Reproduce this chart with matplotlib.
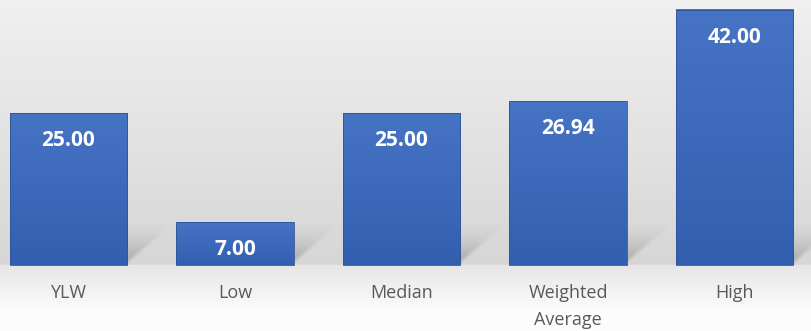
import numpy as np
import matplotlib
matplotlib.use("Agg")
import matplotlib.pyplot as plt
from matplotlib.colors import to_rgb

# values shown on each bar
categories = ["YLW", "Low", "Median", "Weighted\nAverage", "High"]
values = [25.00, 7.00, 25.00, 26.94, 42.00]

plt.rcParams["font.family"] = ["Open Sans", "DejaVu Sans"]

fig = plt.figure(figsize=(8.12, 3.31), dpi=100)
ax = fig.add_axes([0, 0, 1, 1])
ax.set_xlim(-0.411, 4.465)
ax.set_ylim(-10.86, 43.59)
ax.axis("off")

# background: grey wall fading up to light, floor fading down to white
ny = 400
yy = np.linspace(43.59, -10.86, ny)
bg = np.zeros((ny, 2, 3))
top_c, wall_c = np.array(to_rgb("#f0f0f0")), np.array(to_rgb("#d6d6d6"))
floor_c, bot_c = np.array(to_rgb("#e6e6e6")), np.array(to_rgb("#fdfdfd"))
for i, yv in enumerate(yy):
    if yv >= 0:
        t = 1 - yv / 43.59
        c = top_c + (wall_c - top_c) * t
    else:
        t = min(1.0, -yv / 8.0)
        c = floor_c + (bot_c - floor_c) * t
    bg[i, :, :] = c
ax.imshow(bg, extent=[-0.411, 4.465, -10.86, 43.59], aspect="auto", zorder=0,
          interpolation="bilinear")

x = np.arange(len(values))
width = 0.705
bars = ax.bar(x, values, width=width, color="none", edgecolor="none", zorder=3)

# soft skewed shadow behind each bar
dx, hs = 0.30, 7.0
for b in bars:
    x0 = b.get_x()
    w = b.get_width()
    h = min(hs, b.get_height() * 1.1)
    nx, nyy = 200, 80
    gx = np.linspace(x0, x0 + w + dx, nx)
    gy = np.linspace(h, 0, nyy)
    GX, GY = np.meshgrid(gx, gy)
    t = GY / h
    u = (GX - x0 - dx * t) / w
    edge = np.clip(np.minimum(u, 1 - u) / 0.06, 0, 1)
    alpha = 0.38 * (1 - t) ** 1.5 * edge
    img = np.zeros((nyy, nx, 4))
    img[..., :3] = 0.35
    img[..., 3] = alpha
    ax.imshow(img, extent=[x0, x0 + w + dx, 0, h], aspect="auto", zorder=2,
              interpolation="bilinear")

# bars with a slight vertical blue gradient
c_top, c_bot = np.array(to_rgb("#4673c4")), np.array(to_rgb("#325fae"))
for b in bars:
    grad = np.linspace(0, 1, 100)[:, None, None] * (c_bot - c_top) + c_top
    grad = np.repeat(grad, 2, axis=1)
    ax.imshow(grad, extent=[b.get_x(), b.get_x() + b.get_width(), 0, b.get_height()],
              aspect="auto", zorder=3, interpolation="bilinear")
    ax.add_patch(plt.Rectangle((b.get_x(), 0), b.get_width(), b.get_height(),
                               fill=False, edgecolor="#2f5597", lw=0.6, zorder=4))

for xi, v in zip(x, values):
    ax.text(xi, v - 4.5, f"{v:.2f}", ha="center", va="center", color="white",
            fontsize=15, fontweight="bold", zorder=5)

for xi, lab in zip(x, categories):
    ax.text(xi, -3.05, lab, ha="center", va="top", color="#595959",
            fontsize=13, linespacing=1.65, zorder=5)

fig.savefig("out.png", dpi=100)
